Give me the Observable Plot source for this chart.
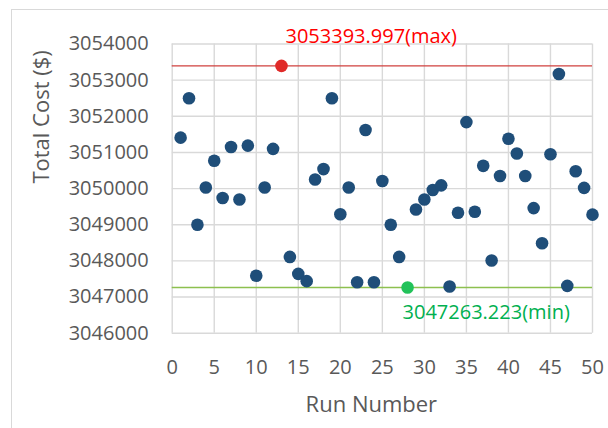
<!DOCTYPE html>
<html>
<head>
<meta charset="utf-8">
<script src="https://cdn.jsdelivr.net/npm/d3@7"></script>
<script src="https://cdn.jsdelivr.net/npm/@observablehq/plot@0.6"></script>
<style>
  html, body { margin: 0; padding: 0; background: #fff; }
  #wrap { position: relative; width: 608px; height: 428px; overflow: hidden; }
  #frame { position: absolute; left: 11px; top: 9px; width: 700px; height: 600px;
           border-left: 1px solid #d9d9d9; border-top: 1px solid #d9d9d9; pointer-events: none; }
  svg { font-family: "Open Sans", sans-serif; }
</style>
</head>
<body>
<div id="wrap"><div id="frame"></div></div>
<script>
const runs = [1,2,3,4,5,6,7,8,9,10,11,12,13,14,15,16,17,18,19,20,21,22,23,24,25,
              26,27,28,29,30,31,32,33,34,35,36,37,38,39,40,41,42,43,44,45,46,47,48,49,50];
const costs = [3051410,3052500,3049000,3050030,3050770,3049740,3051150,3049700,3051190,3047590,
               3050030,3051100,3053393.997,3048110,3047640,3047440,3050250,3050540,3052500,3049290,
               3050030,3047410,3051620,3047410,3050210,3049000,3048110,3047263.223,3049420,3049700,
               3049960,3050090,3047290,3049330,3051840,3049360,3050630,3048010,3050350,3051380,
               3050970,3050350,3049460,3048490,3050950,3053170,3047310,3050480,3050020,3049280];
const xTicks = [0,5,10,15,20,25,30,35,40,45,50];
const yTicks = [3046000,3047000,3048000,3049000,3050000,3051000,3052000,3053000,3054000];
const xTitle = "Run Number";
const yTitle = "Total Cost ($)";

const data = runs.map((r, i) => ({run: r, cost: costs[i]}));
const maxCost = d3.max(costs), minCost = d3.min(costs);
const maxPt = data.find(d => d.cost === maxCost);
const minPt = data.find(d => d.cost === minCost);
const others = data.filter(d => d !== maxPt && d !== minPt);
const fmt = d3.format(".3f");

const chart = Plot.plot({
  width: 608,
  height: 428,
  marginLeft: 171.7,
  marginRight: 16,
  marginTop: 43.5,
  marginBottom: 95.3,
  style: {fontFamily: "Open Sans, sans-serif", fontSize: "20px", color: "#595959", background: "transparent"},
  x: {domain: [0, 50], ticks: xTicks},
  y: {domain: [3046000, 3054000], ticks: yTicks},
  marks: [
    Plot.gridX(xTicks, {stroke: "#d9d9d9", strokeOpacity: 1, strokeWidth: 1.4}),
    Plot.gridY(yTicks, {stroke: "#d9d9d9", strokeOpacity: 1, strokeWidth: 1.4}),
    Plot.axisX(xTicks, {tickSize: 0, tickPadding: 27, fontSize: 20, fill: "#595959", label: null}),
    Plot.axisY(yTicks, {tickSize: 0, tickPadding: 23.5, fontSize: 20, fill: "#595959", tickFormat: d => String(d), label: null}),
    Plot.ruleY([maxCost], {stroke: "#d0403e", strokeWidth: 1.4}),
    Plot.ruleY([minCost], {stroke: "#8dc04f", strokeWidth: 1.6}),
    Plot.dot(others, {x: "run", y: "cost", r: 6.3, fill: "#1f4e79", stroke: "none"}),
    Plot.dot([maxPt], {x: "run", y: "cost", r: 6.3, fill: "#e02a28", stroke: "none"}),
    Plot.dot([minPt], {x: "run", y: "cost", r: 6.3, fill: "#22c25a", stroke: "none"}),
    Plot.text([maxPt], {x: "run", y: "cost", text: d => fmt(d.cost) + "(max)", textAnchor: "start",
      dx: 4, dy: -29, fontSize: 20, fill: "#ff0000"}),
    Plot.text([minPt], {x: "run", y: "cost", text: d => fmt(d.cost) + "(min)", textAnchor: "start",
      dx: -5, dy: 25, fontSize: 20, fill: "#00b050"}),
    Plot.text([xTitle], {frameAnchor: "bottom", text: d => d, dx: -11, dy: 72, lineAnchor: "middle",
      fontSize: 22, fill: "#595959"}),
    Plot.text([yTitle], {frameAnchor: "left", text: d => d, dx: -130, dy: -5, rotate: -90, lineAnchor: "middle",
      fontSize: 22, fill: "#595959"})
  ]
});
document.getElementById("wrap").prepend(chart);
</script>
</body>
</html>
